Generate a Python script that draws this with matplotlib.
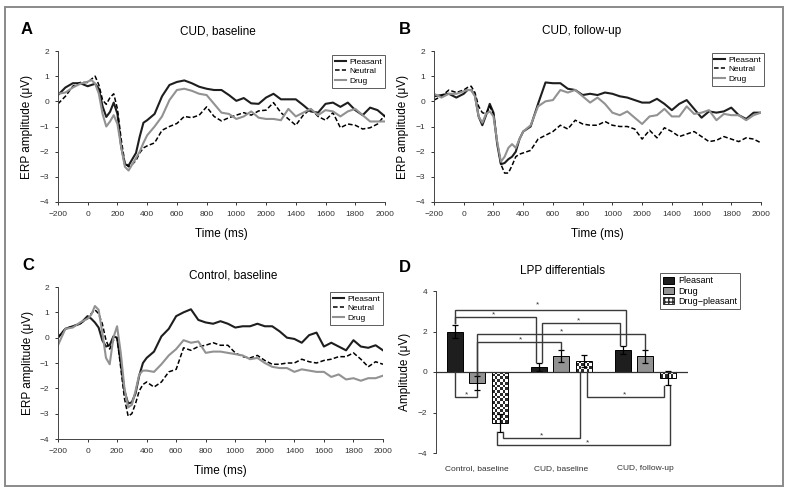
import numpy as np
import matplotlib
matplotlib.use("Agg")
import matplotlib.pyplot as plt
from matplotlib.colors import ListedColormap
from matplotlib.patches import Patch, Rectangle

plt.rcParams["font.family"] = ["Liberation Sans", "DejaVu Sans"]

# ---- ERP data ----
time_ms = [-200, -150, -100, -50, 0, 25, 50, 75, 100, 125, 150, 175, 200, 225, 250,
           275, 300, 325, 350, 375, 400, 450, 500, 550, 600, 650, 700, 750, 800, 850,
           900, 950, 1000, 1050, 1100, 1150, 1200, 1250, 1300, 1350, 1400, 1450, 1500,
           1550, 1600, 1650, 1700, 1750, 1800, 1850, 1900, 1950, 2000]

cud_base_pleasant = [0.25, 0.55, 0.72, 0.72, 0.6, 0.65, 0.7, 0.5, -0.2, -0.62, -0.42, -0.05, -0.5,
                     -1.8, -2.5, -2.55, -2.3, -2.05, -1.4, -0.85, -0.75, -0.5, 0.2, 0.65, 0.77,
                     0.83, 0.72, 0.58, 0.5, 0.45, 0.45, 0.25, 0.02, 0.13, -0.08, -0.1, 0.15,
                     0.3, 0.08, 0.08, 0.08, -0.15, -0.4, -0.45, -0.1, -0.05, -0.22, -0.05,
                     -0.35, -0.55, -0.25, -0.35, -0.6]
cud_base_neutral = [-0.1, 0.2, 0.6, 0.75, 0.75, 0.88, 1.0, 0.65, 0.05, -0.12, 0.15, 0.3, -0.3,
                    -1.5, -2.45, -2.6, -2.5, -2.35, -2.05, -1.85, -1.77, -1.65, -1.15, -1.0,
                    -0.88, -0.6, -0.65, -0.55, -0.22, -0.6, -0.78, -0.65, -0.55, -0.45, -0.55,
                    -0.38, -0.35, -0.05, -0.45, -0.7, -0.95, -0.55, -0.3, -0.6, -0.75, -0.45,
                    -1.05, -0.9, -0.95, -1.1, -1.05, -0.9, -0.55]
cud_base_drug = [0.3, 0.35, 0.55, 0.7, 0.78, 0.85, 0.7, 0.3, -0.5, -1.0, -0.8, -0.55, -0.9,
                 -1.8, -2.6, -2.75, -2.5, -2.25, -2.0, -1.65, -1.35, -1.0, -0.6, 0.05, 0.45,
                 0.5, 0.42, 0.3, 0.25, -0.1, -0.45, -0.5, -0.7, -0.6, -0.4, -0.65, -0.7,
                 -0.7, -0.75, -0.3, -0.6, -0.45, -0.3, -0.55, -0.35, -0.4, -0.6, -0.4, -0.3,
                 -0.55, -0.8, -0.8, -0.8]

cud_follow_pleasant = [0.2, 0.25, 0.3, 0.15, 0.3, 0.45, 0.45, 0.25, -0.6, -0.95, -0.55, -0.1,
                       -0.45, -1.7, -2.5, -2.45, -2.3, -2.2, -2.0, -1.5, -1.2, -1.0, -0.1,
                       0.75, 0.72, 0.72, 0.5, 0.45, 0.25, 0.3, 0.25, 0.35, 0.3, 0.2, 0.15,
                       0.05, -0.05, -0.05, 0.1, -0.1, -0.35, -0.1, 0.05, -0.3, -0.65, -0.4,
                       -0.45, -0.4, -0.25, -0.55, -0.7, -0.45, -0.45]
cud_follow_neutral = [0.05, 0.2, 0.45, 0.35, 0.45, 0.55, 0.6, 0.35, -0.2, -0.45, -0.5, -0.2,
                      -0.5, -1.6, -2.5, -2.85, -2.85, -2.55, -2.2, -2.1, -2.05, -1.95, -1.5,
                      -1.35, -1.2, -0.95, -1.1, -0.75, -0.9, -0.95, -0.95, -0.8, -0.95, -1.0,
                      -1.0, -1.1, -1.5, -1.15, -1.45, -1.05, -1.2, -1.4, -1.3, -1.2, -1.4,
                      -1.6, -1.55, -1.4, -1.5, -1.6, -1.45, -1.5, -1.65]
cud_follow_drug = [0.3, 0.15, 0.3, 0.3, 0.4, 0.45, 0.45, 0.2, -0.6, -0.85, -0.5, -0.4, -0.6,
                   -1.6, -2.4, -2.2, -1.85, -1.7, -1.85, -1.5, -1.2, -0.95, -0.2, 0.0, 0.05,
                   0.45, 0.35, 0.45, 0.2, -0.05, 0.15, -0.1, -0.45, -0.55, -0.4, -0.65, -0.9,
                   -0.6, -0.55, -0.3, -0.6, -0.6, -0.2, -0.5, -0.45, -0.35, -0.75, -0.5,
                   -0.55, -0.55, -0.75, -0.55, -0.45]

ctrl_base_pleasant = [0.0, 0.35, 0.45, 0.55, 0.85, 0.75, 0.6, 0.4, -0.1, -0.35, -0.3, 0.05, 0.0,
                      -1.0, -2.1, -2.6, -2.55, -2.2, -1.5, -1.0, -0.8, -0.55, 0.05, 0.35, 0.85,
                      1.0, 1.12, 0.7, 0.6, 0.55, 0.65, 0.55, 0.4, 0.45, 0.45, 0.55, 0.45, 0.45,
                      0.25, 0.0, -0.05, -0.2, 0.1, 0.2, -0.35, -0.2, -0.35, -0.5, -0.1, -0.35,
                      -0.4, -0.3, -0.5]
ctrl_base_neutral = [0.0, 0.35, 0.45, 0.55, 0.75, 0.95, 1.1, 0.95, 0.55, -0.1, -0.45, -0.1, 0.0,
                     -1.2, -2.4, -3.1, -3.0, -2.6, -2.1, -1.85, -1.75, -1.95, -1.75, -1.35,
                     -1.25, -0.4, -0.5, -0.35, -0.3, -0.2, -0.3, -0.3, -0.6, -0.75, -0.8, -0.7,
                     -0.9, -1.05, -1.05, -1.0, -1.0, -0.85, -0.95, -1.0, -0.9, -0.85, -0.75,
                     -0.75, -0.6, -0.85, -1.15, -0.95, -1.05]
ctrl_base_drug = [-0.3, 0.35, 0.4, 0.6, 0.75, 0.9, 1.25, 1.1, 0.2, -0.8, -1.05, 0.0, 0.45, -0.6,
                  -2.0, -2.75, -2.65, -2.1, -1.45, -1.3, -1.3, -1.35, -1.05, -0.7, -0.45, -0.1,
                  -0.2, -0.15, -0.6, -0.55, -0.55, -0.6, -0.65, -0.7, -0.85, -0.8, -1.0, -1.15,
                  -1.2, -1.2, -1.35, -1.25, -1.3, -1.35, -1.35, -1.55, -1.45, -1.65, -1.6,
                  -1.7, -1.6, -1.6, -1.5]

time_ticks = [-200, 0, 200, 400, 600, 800, 1000, 1200, 1400, 1600, 1800, 2000]
# the original figure labels the 1200 tick as "2000"
time_tick_labels = ["\u2212200", "0", "200", "400", "600", "800", "1000", "2000",
                    "1400", "1600", "1800", "2000"]

# ---- LPP bar data ----
groups = ["Control, baseline", "CUD, baseline", "CUD, follow-up"]
lpp_pleasant = [1.98, 0.25, 1.1]
lpp_pleasant_err = [0.32, 0.2, 0.2]
lpp_drug = [-0.55, 0.8, 0.78]
lpp_drug_err = [0.35, 0.3, 0.33]
lpp_diff = [-2.52, 0.55, -0.3]
lpp_diff_err = [0.43, 0.3, 0.36]

# significance brackets: (x1, y1, x2, y2, y_bar, star_x, star_y)
brackets = [
    (-0.262, 2.42, 1.773, 1.35, 3.08, 0.72, 3.3),
    (-0.262, 2.42, 0.70, 0.5, 2.70, 0.19, 2.8),
    (0.77, 0.5, 1.697, 1.35, 2.42, 1.21, 2.52),
    (0.0, -0.15, 2.0, 1.15, 1.90, 1.0, 2.0),
    (0.0, -0.15, 1.0, 1.12, 1.50, 0.52, 1.6),
    (-0.262, 0.0, 0.0, -0.92, -1.22, -0.13, -1.12),
    (1.313, 0.0, 2.22, -0.7, -1.25, 1.754, -1.15),
    (0.31, -2.98, 1.226, 0.0, -3.27, 0.762, -3.17),
    (0.234, -2.98, 2.30, -0.7, -3.60, 1.318, -3.5),
]

DARK = "#1e1e1e"
GRAY = "#929292"


def erp_panel(ax, title, pleasant, neutral, drug, legend_anchor, title_x, title_pad):
    ax.plot(time_ms, pleasant, color=DARK, lw=1.5, label="Pleasant")
    ax.plot(time_ms, neutral, color="black", lw=1.1, ls=(0, (3, 1.5)), label="Neutral")
    ax.plot(time_ms, drug, color=GRAY, lw=1.5, label="Drug")
    ax.set_xlim(-200, 2000)
    ax.set_ylim(-4, 2)
    ax.set_xticks(time_ticks)
    ax.set_xticklabels(time_tick_labels)
    ax.set_yticks([-4, -3, -2, -1, 0, 1, 2])
    ax.tick_params(labelsize=6, length=2.5, width=0.7, colors="#333333", pad=4)
    for side in ["top", "right"]:
        ax.spines[side].set_visible(False)
    for side in ["left", "bottom"]:
        ax.spines[side].set_linewidth(0.7)
        ax.spines[side].set_color("#444444")
    ax.set_xlabel("Time (ms)", fontsize=8.5)
    ax.set_ylabel("ERP amplitude (\u03bcV)", fontsize=8.5)
    ax.xaxis.set_label_coords(0.5, -0.17)
    ax.yaxis.set_label_coords(-0.075, 0.5)
    ax.set_title(title, fontsize=8.5, x=title_x, pad=title_pad)
    leg = ax.legend(loc="upper right", bbox_to_anchor=legend_anchor, fontsize=6,
                    handlelength=1.3, handletextpad=0.4, borderpad=0.35,
                    labelspacing=0.2, fancybox=False, borderaxespad=0)
    leg.get_frame().set_edgecolor("#333333")
    leg.get_frame().set_linewidth(0.7)


fig = plt.figure(figsize=(7.91, 5.0), dpi=100)

ax_a = fig.add_axes([0.0733, 0.596, 0.4134, 0.302])
ax_b = fig.add_axes([0.5487, 0.596, 0.4134, 0.302])
ax_c = fig.add_axes([0.0733, 0.122, 0.4109, 0.304])
ax_d = fig.add_axes([0.5512, 0.094, 0.3186, 0.324])

erp_panel(ax_a, "CUD, baseline", cud_base_pleasant, cud_base_neutral, cud_base_drug,
          (1.0, 0.974), 0.49, 12)
erp_panel(ax_b, "CUD, follow-up", cud_follow_pleasant, cud_follow_neutral, cud_follow_drug,
          (1.01, 0.987), 0.45, 12)
erp_panel(ax_c, "Control, baseline", ctrl_base_pleasant, ctrl_base_neutral, ctrl_base_drug,
          (1.0, 0.967), 0.54, 6)

# ---- panel D ----
x = np.arange(len(groups))
off = 0.268
width = 0.19
err_kw = dict(ecolor="black", elinewidth=0.9, capsize=2.5, capthick=0.9)
ax_d.bar(x - off, lpp_pleasant, width, yerr=lpp_pleasant_err, color=DARK,
         edgecolor="black", linewidth=0.7, error_kw=err_kw, zorder=3)
ax_d.bar(x, lpp_drug, width, yerr=lpp_drug_err, color=GRAY,
         edgecolor="black", linewidth=0.7, error_kw=err_kw, zorder=3)
diff_bars = ax_d.bar(x + off, lpp_diff, width, yerr=lpp_diff_err, color="none",
                     edgecolor="black", linewidth=0.7, error_kw=err_kw, zorder=3)

checker_cmap = ListedColormap(["white", "#2b2b2b"])
for rect in diff_bars:
    bx, by = rect.get_x(), rect.get_y()
    bw, bh = rect.get_width(), rect.get_height()
    y0, y1 = min(by, by + bh), max(by, by + bh)
    nx = 6
    ny = max(2, int(round((y1 - y0) / 0.135)))
    cells = np.add.outer(np.arange(ny), np.arange(nx)) % 2
    im = ax_d.imshow(cells, cmap=checker_cmap, extent=[bx, bx + bw, y0, y1],
                     aspect="auto", interpolation="nearest", zorder=2.5)
    im.set_clip_path(rect)

ax_d.set_xlim(-0.49, 2.51)
ax_d.set_ylim(-4, 4)
ax_d.set_aspect("auto")

ax_d.axhline(0, color="#333333", lw=0.9, zorder=4)

for x1, y1, x2, y2, yb, sx, sy in brackets:
    ax_d.plot([x1, x1, x2, x2], [y1, yb, yb, y2], color="#3a3a3a", lw=1.0,
              solid_joinstyle="miter", zorder=5)
    ax_d.text(sx, sy, "*", fontsize=6, ha="center", va="center", color="#333333")

ax_d.set_xticks(x)
ax_d.set_xticklabels(groups)
ax_d.set_yticks([-4, -2, 0, 2, 4])
ax_d.tick_params(axis="x", length=0, labelsize=6, pad=9, colors="#333333")
ax_d.tick_params(axis="y", length=2.5, width=0.7, labelsize=6, colors="#333333", pad=4)
for side in ["top", "right", "bottom"]:
    ax_d.spines[side].set_visible(False)
ax_d.spines["left"].set_linewidth(0.7)
ax_d.spines["left"].set_color("#444444")
ax_d.set_ylabel("Amplitude (\u03bcV)", fontsize=8.5)
ax_d.yaxis.set_label_coords(-0.1, 0.5)
ax_d.set_title("LPP differentials", fontsize=8.5, pad=12)

d_handles = [Patch(facecolor=DARK, edgecolor="black", linewidth=0.7),
             Patch(facecolor=GRAY, edgecolor="black", linewidth=0.7),
             Patch(facecolor="white", edgecolor="#2b2b2b", linewidth=0.7, hatch="++++")]
leg = ax_d.legend(d_handles, ["Pleasant", "Drug", "Drug\u2212pleasant"], loc="upper right",
                  bbox_to_anchor=(1.206, 1.11), fontsize=6.5, handlelength=1.2,
                  handleheight=0.8, handletextpad=0.4, borderpad=0.35, labelspacing=0.15,
                  fancybox=False, borderaxespad=0)
leg.get_frame().set_edgecolor("#333333")
leg.get_frame().set_linewidth(0.7)

# panel letters
for letter, px, py in [("A", 27, 30), ("B", 405, 30), ("C", 28, 265), ("D", 405, 267)]:
    fig.text(px / 791, 1 - py / 500, letter, fontsize=12, fontweight="bold",
             ha="center", va="center")

# outer frame
fig.patches.append(Rectangle((5 / 791, 1 - 486 / 500), 778 / 791, 479 / 500,
                             transform=fig.transFigure, fill=False,
                             edgecolor="#8a8a8a", linewidth=1.4))

fig.savefig("out.png", dpi=100)
